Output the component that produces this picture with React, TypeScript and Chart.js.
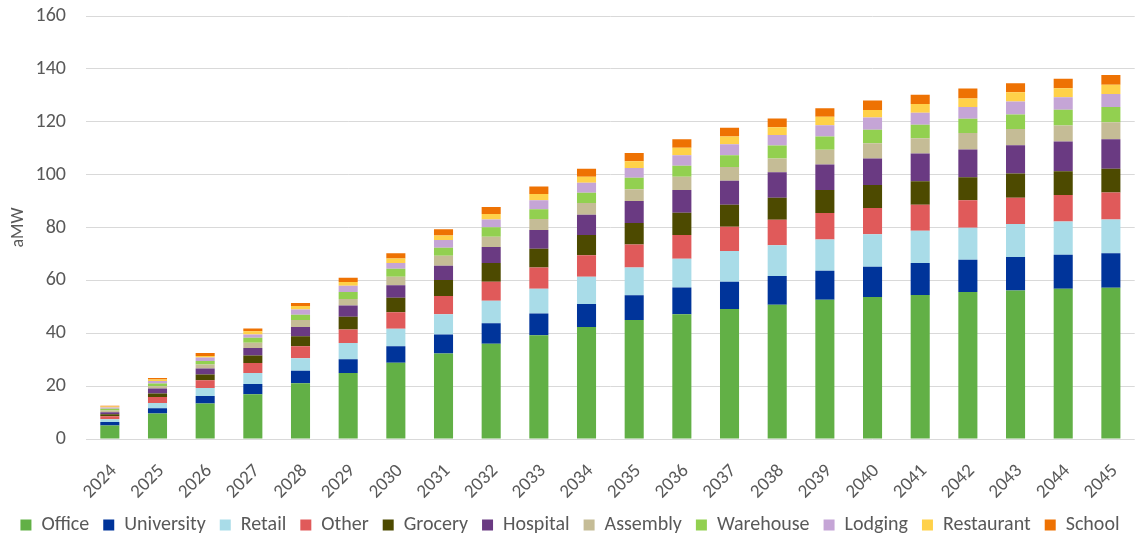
import React, { useEffect, useRef } from "react";
import { Chart, registerables } from "chart.js";

Chart.register(...registerables);

const years = ["2024","2025","2026","2027","2028","2029","2030","2031","2032","2033","2034","2035","2036","2037","2038","2039","2040","2041","2042","2043","2044","2045"];

const office = [5.1,9.6,13.4,16.9,21.1,25.0,28.8,32.3,36.0,39.2,42.4,45.0,47.2,49.2,50.8,52.7,53.7,54.5,55.6,56.2,56.8,57.2];
const university = [1.3,2.0,2.9,3.9,4.7,5.2,6.3,7.2,7.8,8.3,8.7,9.4,10.1,10.3,10.9,10.9,11.5,12.1,12.2,12.6,12.9,13.1];
const retail = [1.1,2.0,3.0,4.2,4.7,6.1,6.6,7.7,8.5,9.3,10.3,10.5,10.9,11.6,11.6,11.9,12.2,12.2,12.1,12.5,12.6,12.7];
const other = [1.1,2.3,2.9,3.7,4.6,5.1,6.2,6.9,7.2,8.1,8.1,8.7,9.0,9.2,9.6,10.0,10.0,9.8,10.4,10.0,10.0,10.2];
const grocery = [0.8,1.3,2.2,2.9,3.8,4.8,5.5,6.0,7.1,7.1,7.7,8.1,8.4,8.3,8.4,8.7,8.7,8.9,8.7,9.1,9.0,9.0];
const hospital = [0.7,1.9,2.3,2.8,3.5,4.3,4.8,5.4,6.0,7.1,7.6,8.3,8.6,9.1,9.6,9.6,10.0,10.5,10.5,10.7,11.2,11.2];
const assembly = [0.7,0.9,1.5,2.0,2.6,2.5,3.2,3.8,3.9,4.1,4.5,4.5,5.0,5.2,5.2,5.6,5.8,5.8,6.2,6.2,6.1,6.4];
const warehouse = [0.6,1.0,1.3,1.9,2.0,2.6,3.0,3.0,3.6,3.7,3.8,4.3,4.2,4.4,4.9,5.0,5.1,5.1,5.4,5.4,5.9,5.8];
const lodging = [0.5,0.9,1.3,1.2,2.0,2.4,2.2,3.0,2.9,3.4,3.8,3.7,3.9,4.2,4.0,4.3,4.6,4.5,4.5,5.0,4.8,4.9];
const restaurant = [0.4,0.6,0.6,1.3,1.3,1.4,1.7,1.7,2.1,2.4,2.3,2.6,2.9,2.9,2.9,3.2,2.8,3.3,3.2,3.5,3.4,3.5];
const school = [0.3,0.6,1.1,1.0,1.1,1.6,2.0,2.3,2.7,2.8,3.0,3.1,3.2,3.3,3.3,3.2,3.6,3.5,3.8,3.4,3.6,3.7];

const seriesNames = ["Office","University","Retail","Other","Grocery","Hospital","Assembly","Warehouse","Lodging","Restaurant","School"];
const seriesValues = [office,university,retail,other,grocery,hospital,assembly,warehouse,lodging,restaurant,school];
const seriesColors = ["#62B046","#00349A","#A9DCE8","#E05A5A","#4D4A00","#6A3A82","#C5BC96","#92D050","#C5A5D6","#FFD149","#EE7203"];

const FONT = 'Carlito, Lato, "Liberation Sans", sans-serif';
const TEXT = "#595959";

const CANVAS_TOP = -16;
const CANVAS_H = 561;

export default function App() {
  const ref = useRef<HTMLCanvasElement>(null);
  useEffect(() => {
    if (!ref.current) return;
    const chart = new Chart(ref.current, {
      type: "bar",
      data: {
        labels: years,
        datasets: seriesNames.map((n, i) => ({
          label: n,
          data: seriesValues[i],
          backgroundColor: seriesColors[i],
          borderWidth: 0,
          categoryPercentage: 1,
          barPercentage: 0.4,
        })),
      },
      options: {
        animation: false,
        responsive: false,
        maintainAspectRatio: false,
        layout: { padding: { top: 6, right: 0, left: 0, bottom: 0 } },
        plugins: {
          tooltip: { enabled: false },
          legend: {
            position: "bottom",
            labels: {
              boxWidth: 11,
              boxHeight: 11,
              padding: 14,
              color: TEXT,
              font: { family: FONT, size: 20 },
            },
          },
        },
        scales: {
          x: {
            stacked: true,
            grid: { display: false },
            border: { display: false },
            ticks: {
              color: TEXT,
              font: { family: FONT, size: 19 },
              minRotation: 45,
              maxRotation: 45,
              padding: 13,
              labelOffset: 4,
            },
            afterFit: (s: any) => { s.height = 62; },
          },
          y: {
            stacked: true,
            min: 0,
            max: 160,
            ticks: {
              stepSize: 20,
              color: TEXT,
              font: { family: FONT, size: 20 },
              padding: 20,
            },
            grid: { color: "#D9D9D9", lineWidth: 1, drawTicks: false },
            border: { display: false },
            title: {
              display: true,
              text: "aMW",
              color: TEXT,
              font: { family: FONT, size: 18 },
              padding: { top: 8, bottom: 0 },
            },
            afterFit: (s: any) => { s.width = 86; },
          },
        },
      },
    });
    return () => chart.destroy();
  }, []);
  return (
    <div style={{ position: "absolute", left: 0, top: 0, width: 1140, height: 537, overflow: "hidden", background: "#fff" }}>
      <canvas
        ref={ref}
        width={1140}
        height={CANVAS_H}
        style={{ position: "absolute", left: 0, top: CANVAS_TOP, width: 1140, height: CANVAS_H }}
      />
    </div>
  );
}
